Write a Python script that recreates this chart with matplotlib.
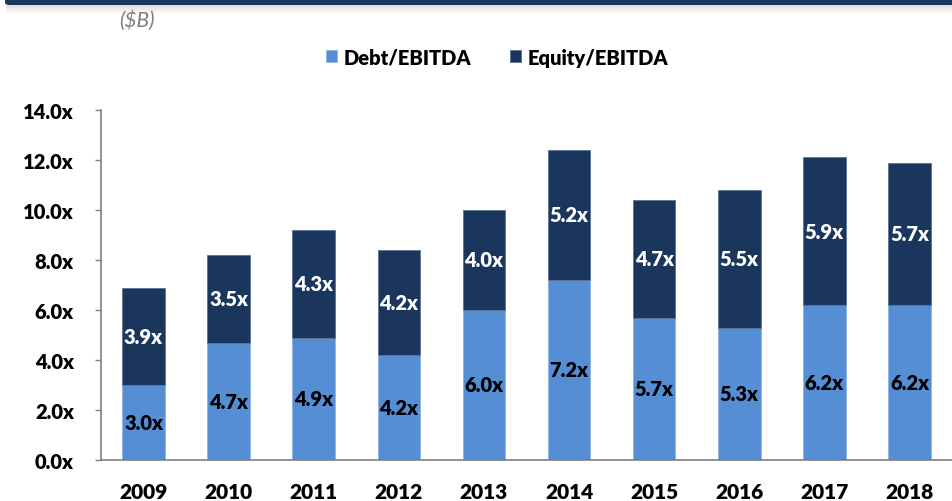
import matplotlib
matplotlib.use("Agg")
import matplotlib.pyplot as plt
import numpy as np
from matplotlib.patches import FancyBboxPatch, Rectangle

years = ["2009", "2010", "2011", "2012", "2013", "2014", "2015", "2016", "2017", "2018"]
debt = [3.0, 4.7, 4.9, 4.2, 6.0, 7.2, 5.7, 5.3, 6.2, 6.2]
equity = [3.9, 3.5, 4.3, 4.2, 4.0, 5.2, 4.7, 5.5, 5.9, 5.7]
yticks = [0, 2, 4, 6, 8, 10, 12, 14]
series_names = ["Debt/EBITDA", "Equity/EBITDA"]

DEBT_C = "#558ED5"
EQ_C = "#1A365D"
FONT = ["Lato", "DejaVu Sans"]
plt.rcParams["font.family"] = FONT
WEIGHT = "heavy"

W, H = 953, 502
fig = plt.figure(figsize=(W / 100, H / 100), dpi=100)

# top banner with shadow
for i in range(10):
    a = 0.28 * (1 - i / 10)
    fig.patches.append(Rectangle((6 / W, 1 - (6 + i) / H), 1, 1 / H,
                                 transform=fig.transFigure, color="gray",
                                 alpha=a, lw=0, zorder=1))
fig.patches.append(FancyBboxPatch((5 / W, 1 - 6 / H), 1.0, 20 / H,
                                  boxstyle="round,pad=0,rounding_size=0.005",
                                  transform=fig.transFigure, color="#1C375D",
                                  lw=0, zorder=2))

ax = fig.add_axes([101 / W, 41 / H, 851 / W, 350 / H])
x = np.arange(len(years))
bw = 0.5
ax.bar(x, debt, bw, color=DEBT_C, edgecolor="#8DB3E2", linewidth=0.6,
       label=series_names[0], zorder=2)
ax.bar(x, equity, bw, bottom=debt, color=EQ_C, edgecolor="#5B7396",
       linewidth=0.6, label=series_names[1], zorder=2)

for xi, d, e in zip(x, debt, equity):
    ax.text(xi, d / 2, f"{d:.1f}x", ha="center", va="center", fontsize=14.5,
            fontweight=WEIGHT, color="black", zorder=3)
    ax.text(xi, d + e / 2, f"{e:.1f}x", ha="center", va="center", fontsize=14.5,
            fontweight=WEIGHT, color="white", zorder=3)

ax.set_xlim(-0.5, len(years) - 0.5)
ax.set_ylim(0, 14)
ax.set_yticks(yticks)
ax.set_yticklabels([f"{v:.1f}x" for v in yticks], fontsize=14.5, fontweight=WEIGHT)
ax.set_xticks(x)
ax.set_xticklabels(years, fontsize=15, fontweight=WEIGHT)
ax.tick_params(axis="x", length=0, pad=16)
ax.tick_params(axis="y", length=4.5, width=1, color="#808080", pad=15, direction="out")
for s in ["top", "right"]:
    ax.spines[s].set_visible(False)
for s in ["left", "bottom"]:
    ax.spines[s].set_color("#808080")
    ax.spines[s].set_linewidth(1.2)

leg = fig.legend(loc="center", bbox_to_anchor=(497 / W, 1 - 58 / H), ncol=2,
                 frameon=False, prop={"weight": WEIGHT, "size": 14.5},
                 handlelength=0.55, handleheight=0.55, handletextpad=0.35,
                 columnspacing=1.9)

fig.text(119 / W, 1 - 21 / H, "($B)", fontsize=15, style="italic",
         color="#7F7F7F", ha="left", va="center")

fig.savefig("out.png", dpi=100)
